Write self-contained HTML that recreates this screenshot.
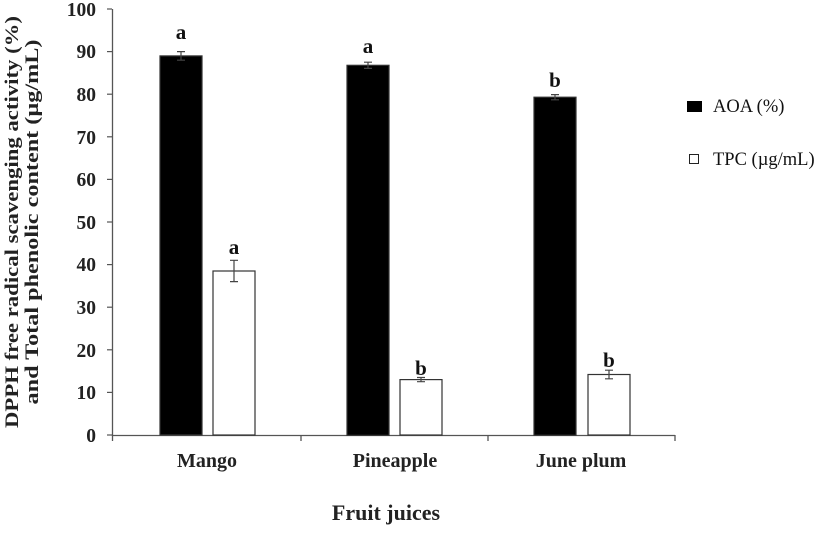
<!DOCTYPE html>
<html><head><meta charset="utf-8"><style>html,body{margin:0;padding:0;background:#fff}</style></head>
<body>
<svg width="827" height="528" viewBox="0 0 827 528" xmlns="http://www.w3.org/2000/svg" font-family="Liberation Serif, serif">
<rect width="827" height="528" fill="#fff"/>
<g stroke="#555" stroke-width="1.3" fill="none">
<line x1="112.5" y1="9" x2="112.5" y2="436"/>
<line x1="112" y1="435.5" x2="675" y2="435.5"/>
<line x1="301" y1="435" x2="301" y2="441"/>
<line x1="488" y1="435" x2="488" y2="441"/>
<line x1="675" y1="435" x2="675" y2="441"/>
<line x1="112.5" y1="435" x2="112.5" y2="441"/>
</g>
<g stroke="#555" stroke-width="1.2">
<line x1="107" y1="435" x2="112" y2="435"/><line x1="107" y1="392.4" x2="112" y2="392.4"/><line x1="107" y1="349.8" x2="112" y2="349.8"/><line x1="107" y1="307.2" x2="112" y2="307.2"/><line x1="107" y1="264.6" x2="112" y2="264.6"/><line x1="107" y1="222" x2="112" y2="222"/><line x1="107" y1="179.4" x2="112" y2="179.4"/><line x1="107" y1="136.8" x2="112" y2="136.8"/><line x1="107" y1="94.2" x2="112" y2="94.2"/><line x1="107" y1="51.6" x2="112" y2="51.6"/><line x1="107" y1="9" x2="112" y2="9"/>
</g>
<g font-size="19.5" font-weight="bold" text-anchor="end" fill="#222">
<text x="96" y="442">0</text><text x="96" y="399">10</text><text x="96" y="357">20</text><text x="96" y="314">30</text><text x="96" y="271">40</text><text x="96" y="229">50</text><text x="96" y="186">60</text><text x="96" y="144">70</text><text x="96" y="101">80</text><text x="96" y="58">90</text><text x="96" y="16">100</text>
</g>
<g stroke="#333" stroke-width="1.2">
<rect x="160" y="55.9" width="42" height="379" fill="#000"/>
<rect x="213" y="271" width="42" height="164" fill="#fff"/>
<rect x="347" y="65.3" width="42" height="370" fill="#000"/>
<rect x="400" y="379.6" width="42" height="55.4" fill="#fff"/>
<rect x="534" y="97.2" width="42" height="338" fill="#000"/>
<rect x="588" y="374.5" width="42" height="60.5" fill="#fff"/>
</g>
<g stroke="#444" stroke-width="1.2" fill="none">
<path d="M181 51.6V60.2M177 51.6H185M177 60.2H185"/>
<path d="M234 260.3V281.6M230 260.3H238M230 281.6H238"/>
<path d="M368 62.2V68.4M364 62.2H372M364 68.4H372"/>
<path d="M421 377.5V381.7M417 377.5H425M417 381.7H425"/>
<path d="M555 94.6V99.8M551 94.6H559M551 99.8H559"/>
<path d="M609 370.2V378.8M605 370.2H613M605 378.8H613"/>
</g>
<g font-size="21" font-weight="bold" text-anchor="middle" fill="#111">
<text x="181" y="39">a</text><text x="234" y="254">a</text>
<text x="368" y="53">a</text><text x="421" y="375">b</text>
<text x="555" y="87">b</text><text x="609" y="367">b</text>
</g>
<g font-size="20" font-weight="bold" text-anchor="middle" fill="#222">
<text x="207" y="467">Mango</text><text x="395" y="467">Pineapple</text><text x="581" y="467">June plum</text>
<text x="386" y="520" font-size="22">Fruit juices</text>
</g>
<g font-size="18.5" font-weight="bold" text-anchor="middle" fill="#222">
<text transform="translate(18,222) rotate(-90)" textLength="412" lengthAdjust="spacingAndGlyphs">DPPH free  radical scavenging activity (%)</text>
<text transform="translate(38,222) rotate(-90)" textLength="365" lengthAdjust="spacingAndGlyphs">and Total phenolic content (µg/mL)</text>
</g>
<rect x="687" y="101" width="15" height="11" fill="#000"/>
<rect x="689.5" y="154.5" width="9" height="9" fill="#fff" stroke="#222" stroke-width="1"/>
<g font-size="18.5" fill="#111">
<text x="713" y="112">AOA (%)</text><text x="713" y="165">TPC (µg/mL)</text>
</g>
</svg>
</body></html>
